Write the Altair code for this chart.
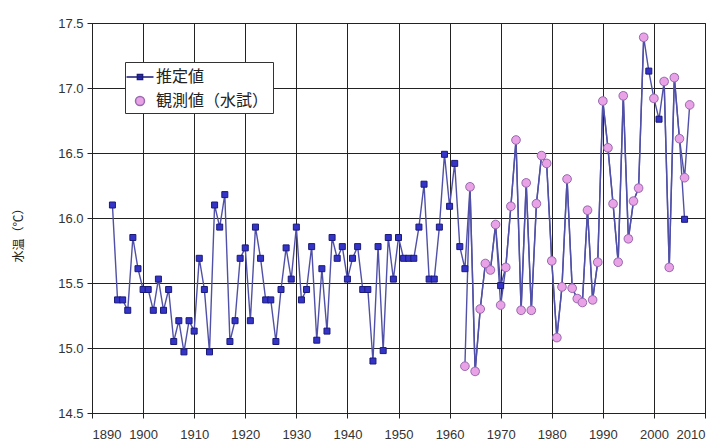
import altair as alt
import pandas as pd

# 推定値 (estimated), one value per year 1894-2006
est_years = list(range(1894, 2007))
est_values = [
    16.10, 15.37, 15.37, 15.29, 15.85, 15.61, 15.45, 15.45, 15.29, 15.53,
    15.29, 15.45, 15.05, 15.21, 14.97, 15.21, 15.13, 15.69, 15.45, 14.97,
    16.10, 15.93, 16.18, 15.05, 15.21, 15.69, 15.77, 15.21, 15.93, 15.69,
    15.37, 15.37, 15.05, 15.45, 15.77, 15.53, 15.93, 15.37, 15.45, 15.78,
    15.06, 15.61, 15.13, 15.85, 15.69, 15.78, 15.53, 15.69, 15.78, 15.45,
    15.45, 14.90, 15.78, 14.98, 15.85, 15.53, 15.85, 15.69, 15.69, 15.69,
    15.93, 16.26, 15.53, 15.53, 15.93, 16.49, 16.09, 16.42, 15.78, 15.61,
    16.24, 14.82, 15.30, 15.65, 15.60, 15.95, 15.48, 15.62, 16.09, 16.60,
    15.29, 16.27, 15.29, 16.11, 16.48, 16.42, 15.67, 15.08, 15.47, 16.30,
    15.46, 15.38, 15.35, 16.06, 15.37, 15.66, 16.90, 16.54, 16.11, 15.66,
    16.94, 15.84, 16.13, 16.23, 17.39, 17.13, 16.92, 16.76, 17.05, 15.62,
    17.08, 16.61, 15.99,
]

# 観測値（水試） (observed), 1963-2007, no value in 1999 and 2001
obs_years = list(range(1963, 2008))
obs_values = [
    14.86, 16.24, 14.82, 15.30, 15.65, 15.60, 15.95, 15.33, 15.62, 16.09,
    16.60, 15.29, 16.27, 15.29, 16.11, 16.48, 16.42, 15.67, 15.08, 15.47,
    16.30, 15.46, 15.38, 15.35, 16.06, 15.37, 15.66, 16.90, 16.54, 16.11,
    15.66, 16.94, 15.84, 16.13, 16.23, 17.39, None, 16.92, None, 17.05,
    15.62, 17.08, 16.61, 16.31, 16.87,
]

series_names = ["推定値", "観測値（水試）"]
x_ticks = list(range(1890, 2011, 10))
y_ticks = [14.5, 15.0, 15.5, 16.0, 16.5, 17.0, 17.5]

est = pd.DataFrame({"year": est_years, "v": est_values})
obs = pd.DataFrame({"year": obs_years, "v": obs_values})
leg = pd.DataFrame({"series": series_names})

LINE = "#5050a8"
BLUE = "#3434c8"
NAVY = "#1a1a78"
PINK = "#eaa2e6"
PURPLE = "#9a6ab0"
GRID = "#222222"

x_enc = alt.X(
    "year:Q",
    scale=alt.Scale(domain=[1890, 2010], nice=False, zero=False),
    axis=alt.Axis(values=x_ticks, format="d", title=None, grid=True,
                  labelFontSize=13, labelPadding=10),
)
y_enc = alt.Y(
    "v:Q",
    scale=alt.Scale(domain=[14.5, 17.5], nice=False, zero=False),
    axis=alt.Axis(values=y_ticks, format=".1f", title="水温（℃）", grid=True,
                  labelFontSize=13, labelPadding=4,
                  titleFont="Noto Sans CJK JP", titleFontSize=12,
                  titleFontWeight="normal", titleColor="#222",
                  titleAngle=270, titleAlign="center", titleBaseline="middle",
                  titleX=-74, titleY=209),
)

est_line = alt.Chart(est).mark_line(color=LINE, strokeWidth=1.4).encode(x=x_enc, y=y_enc)
obs_line = alt.Chart(obs).mark_line(color=LINE, strokeWidth=1.4,
                                    invalid="break-paths-filter-domains").encode(x=x_enc, y=y_enc)
est_pts = alt.Chart(est).mark_point(shape="square", filled=True, fill=BLUE, stroke=NAVY,
                                    strokeWidth=1, size=36, opacity=1).encode(x=x_enc, y=y_enc)
obs_pts = alt.Chart(obs).transform_filter("isValid(datum.v)").mark_point(
    shape="circle", filled=True, fill=PINK, stroke=PURPLE, strokeWidth=1, size=75, opacity=1
).encode(x=x_enc, y=y_enc)

path_est = "M-1.35,0L1.35,0M-0.26,-0.26L0.26,-0.26L0.26,0.26L-0.26,0.26Z"
path_obs = "M-0.45,0A0.45,0.45,0,1,0,0.45,0A0.45,0.45,0,1,0,-0.45,0Z"

legend = alt.Legend(
    title=None, orient="none", legendX=33, legendY=39,
    labelFont="Noto Sans CJK JP", labelFontSize=16, labelColor="#222",
    strokeColor="#333", fillColor="white", padding=4, rowPadding=5,
    symbolSize=400, symbolStrokeWidth=1.5, labelOffset=5,
)
legend_layer = alt.Chart(leg).transform_filter("false").mark_point(
    filled=True, opacity=1, size=400
).encode(
    x=alt.value(0), y=alt.value(0),
    fill=alt.Fill("series:N", scale=alt.Scale(domain=series_names, range=[BLUE, PINK]), legend=legend),
    stroke=alt.Stroke("series:N", scale=alt.Scale(domain=series_names, range=[NAVY, PURPLE]), legend=legend),
    shape=alt.Shape("series:N", scale=alt.Scale(domain=series_names, range=[path_est, path_obs]), legend=legend),
)

chart = alt.layer(est_line, obs_line, est_pts, obs_pts, legend_layer).properties(
    width=613, height=390,
    autosize=alt.AutoSizeParams(type="none"),
    padding={"left": 84, "top": 15, "right": 13, "bottom": 35},
    background="white",
).configure_axis(
    gridColor=GRID, gridWidth=1, domainColor=GRID, tickColor=GRID, tickSize=5,
    labelFont="Liberation Sans", labelColor="#333",
).configure_view(stroke=GRID)

chart.save("out.html", embed_options={"renderer": "svg", "actions": False})
